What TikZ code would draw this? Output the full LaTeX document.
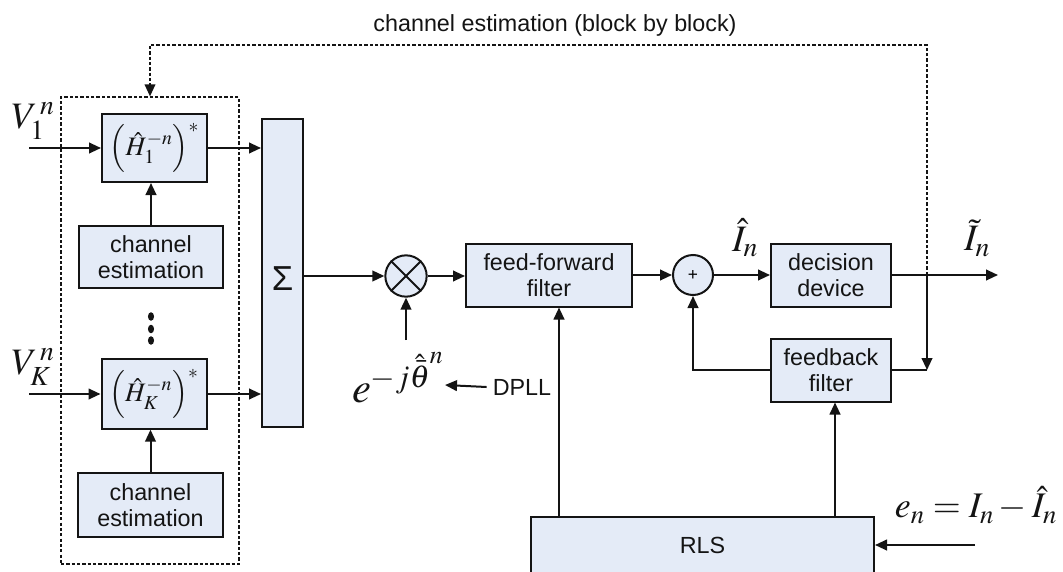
\documentclass[tikz,border=0pt]{standalone}
\usepackage{mathptmx}
\usepackage[no-math]{fontspec}
\setmainfont{Liberation Sans}
\usetikzlibrary{arrows.meta}
\definecolor{boxfill}{RGB}{228,235,247}
\definecolor{ink}{RGB}{20,20,20}
\begin{document}
\begin{tikzpicture}[x=0.75pt,y=-0.75pt,
  blk/.style={draw=ink, line width=1.5pt, fill=boxfill, inner sep=0pt, align=center,
    font=\fontsize{17.5}{20}\selectfont, text=ink},
  conn/.style={draw=ink, line width=1.5pt, -{Triangle[length=9pt,width=8pt]}},
  plain/.style={draw=ink, line width=1.5pt},
  dotline/.style={draw=ink, line width=1.2pt, dash pattern=on 2.4pt off 1.6pt},
  sumnode/.style={circle, draw=ink, line width=1.5pt, fill=boxfill, inner sep=0pt, minimum size=31pt},
  lbl/.style={inner sep=0pt, text=ink},
]
\useasboundingbox (0,0) rectangle (1063,571);
\clip (0,0) rectangle (1063,571);

% dotted group box
\node[dotline, minimum width=133.5pt, minimum height=350pt, inner sep=0pt] (group) at (150,330.5) {};

% blocks
\node[blk, minimum width=78.75pt, minimum height=51pt] (h1) at (154.5,148)
  {\fontsize{20}{20}\selectfont$\Bigl(\hat{H}_1^{-n}\Bigr)^{*}$};
\node[blk, minimum width=78.75pt, minimum height=52pt] (hk) at (154,394)
  {\fontsize{20}{20}\selectfont$\Bigl(\hat{H}_K^{-n}\Bigr)^{*}$};
\node[blk, minimum width=108pt, minimum height=46.5pt] (ce1) at (151,257) {channel\\estimation};
\node[blk, minimum width=108.75pt, minimum height=48pt] (ce2) at (150.5,505) {channel\\estimation};
\node[blk, minimum width=30.75pt, minimum height=231pt] (sigma) at (282.5,273) {};
\node[lbl, font=\fontsize{26}{26}\selectfont] (sigsym) at (282.5,279) {Σ};
\node[sumnode] (mult) at (406,276) {};
\draw[plain] (mult.north west) -- (mult.south east);
\draw[plain] (mult.north east) -- (mult.south west);
\node[blk, minimum width=124.5pt, minimum height=47.25pt] (ff) at (549,275) {feed-forward\\filter};
\node[sumnode, minimum size=30pt, font=\fontsize{13}{13}\selectfont] (add) at (693,275) {+};
\node[blk, minimum width=90pt, minimum height=47.25pt] (dec) at (831,275) {decision\\device};
\node[blk, minimum width=90pt, minimum height=47.25pt] (fb) at (831,370) {feedback\\filter};
\node[blk, minimum width=257.25pt, minimum height=42pt] (rls) at (702.5,545) {RLS};

% vertical dots
\fill[ink] (151,316.5) ellipse [x radius=2.3pt, y radius=3.2pt];
\fill[ink] (151,329) ellipse [x radius=2.3pt, y radius=3.2pt];
\fill[ink] (151,340.5) ellipse [x radius=2.3pt, y radius=3.2pt];

% labels
\node[lbl, font=\fontsize{28}{28}\selectfont] (v1) at (33,121) {$V_1^{\,n}$};
\node[lbl, font=\fontsize{28}{28}\selectfont] (vk) at (33,367) {$V_K^{\,n}$};
\node[lbl, font=\fontsize{32}{32}\selectfont] (phase) at (398,378) {$e^{-j\hat{\bar{\theta}}^{n}}$};
\node[lbl, font=\fontsize{17.5}{17.5}\selectfont] (dpll) at (522,387) {DPLL};
\node[lbl, font=\fontsize{28}{28}\selectfont] (ihat) at (745,238) {$\hat{I}_n$};
\node[lbl, font=\fontsize{28}{28}\selectfont] (itil) at (977,238) {$\tilde{I}_n$};
\node[lbl, font=\fontsize{27}{27}\selectfont] (err) at (976,505) {$e_n = I_n - \hat{I}_n$};
\node[lbl, font=\fontsize{17.5}{17.5}\selectfont] (toptext) at (555,25) {channel estimation (block by block)};

% helper coordinates
\coordinate (v1in) at (29,148);
\coordinate (vkin) at (29,394);
\coordinate (phin) at (406,340);
\coordinate (dpllend) at (445,385);
\coordinate (out) at (998,275);
\coordinate (tap) at (927,275);
\coordinate (fbcorner) at (927,370);
\coordinate (topright) at (927,45);
\coordinate (topleft) at (150,45);
\coordinate (ffx) at (559,0);
\coordinate (fbx) at (835,0);
\coordinate (errin) at (975,545);

% connectors
\draw[conn] (v1in) -- (h1.west);
\draw[conn] (vkin) -- (hk.west);
\draw[conn] (h1.east) -- (h1.east -| sigma.west);
\draw[conn] (hk.east) -- (hk.east -| sigma.west);
\draw[conn] (ce1.north) -- (ce1.north |- h1.south);
\draw[conn] (ce2.north) -- (ce2.north |- hk.south);
\draw[conn] (sigma.east |- mult.west) -- (mult.west);
\draw[conn] (mult.east) -- (mult.east -| ff.west);
\draw[conn] (phin) -- (mult.south);
\draw[conn] (dpll.west) ++(-6,0) -- (dpllend);
\draw[conn] (ff.east) -- (add.west);
\draw[conn] (add.east) -- (dec.west);
\draw[conn] (dec.east) -- (out);
\draw[conn] (tap) -- (fbcorner);
\draw[plain] (fbcorner) -- (fb.east);
\draw[conn] (fb.west) -| (add.south);
\draw[conn] (rls.north -| ffx) -- (ff.south -| ffx);
\draw[conn] (rls.north -| fbx) -- (fb.south -| fbx);
\draw[conn] (errin) -- (rls.east);
\draw[dotline, -{Triangle[length=9pt,width=8pt]}] (tap) -- (topright) -- (topleft) -- (group.north -| topleft);
\end{tikzpicture}
\end{document}
